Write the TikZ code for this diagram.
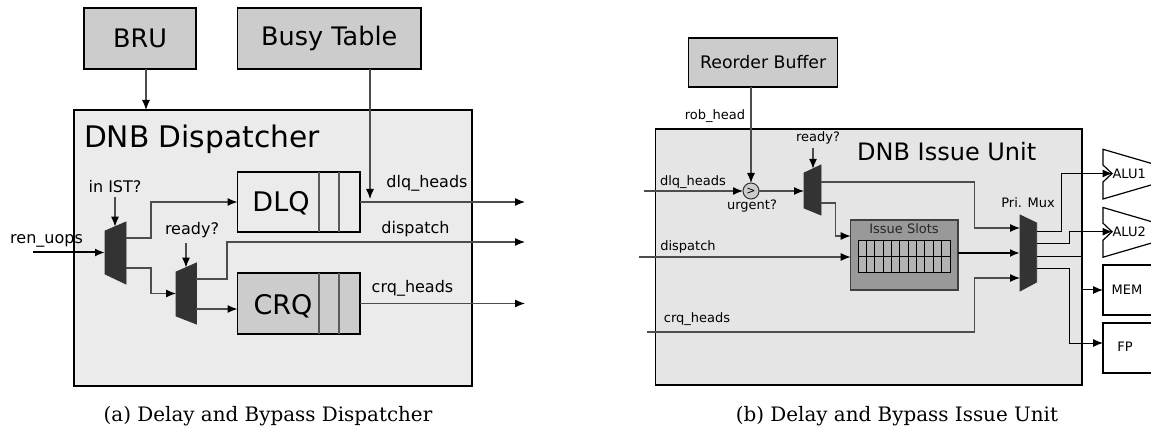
\documentclass[tikz,border=0pt]{standalone}
\usepackage{fontspec}
\newfontfamily\dv{DejaVu Sans}
\newfontfamily\dvserif{DejaVu Serif}
\usetikzlibrary{arrows.meta,calc}
\definecolor{boxgray}{HTML}{CCCCCC}
\definecolor{panelA}{HTML}{EBEBEB}
\definecolor{panelB}{HTML}{E5E5E5}
\definecolor{muxfill}{HTML}{333333}
\definecolor{slotbox}{HTML}{999999}
\definecolor{slotcell}{HTML}{B3B3B3}
\definecolor{wirecol}{HTML}{4D4D4D}

\begin{document}
\begin{tikzpicture}[x=1pt,y=-1pt,
  every node/.style={inner sep=0pt,outer sep=0pt},
  lbl/.style={font=\dv\fontsize{16}{19}\selectfont},
  slbl/.style={font=\dv\fontsize{13}{16}\selectfont},
  unitbox/.style={draw=black,line width=1.3pt,fill=boxgray,font=\dv\fontsize{25.5}{30}\selectfont},
  panel/.style={draw=black,line width=1.2pt},
  queuebox/.style={draw=black,line width=1.2pt},
  divider/.style={draw=black!65,line width=1.1pt},
  muxbody/.style={fill=muxfill,draw=muxfill,line width=0.8pt},
  muxhit/.style={draw=none},
  wire/.style={draw=wirecol,line width=1.2pt},
  arr/.style={wire,-{Latex[length=10pt,width=8pt,color=black]}},
  fuwire/.style={arr,draw=black,line width=1pt},
  fu/.style={draw=black,line width=1.2pt,fill=white},
  captxt/.style={font=\dvserif\fontsize{19.9}{24}\selectfont},
]
\useasboundingbox (0,0) rectangle (1151,430);

% ---------------- (a) dispatcher ----------------
\node[panel,fill=panelA,minimum width=398pt,minimum height=276pt] (disp) at (273,248) {};
\node[anchor=base west,font=\dv\fontsize{29.7}{34}\selectfont] (dispt) at (84,148) {DNB Dispatcher};
\node[unitbox,minimum width=112pt,minimum height=61pt] (bru) at (140,38.5) {BRU};
\node[unitbox,minimum width=183.5pt,minimum height=61pt] (busy) at (329.25,38.5) {Busy Table};

\draw[arr] ([xshift=6pt]bru.south) -- ([xshift=6pt]bru.south |- disp.north);
\coordinate (busyin) at (370,199);
\draw[arr] (busy.south -| busyin) -- (busyin);

% queues
\node[queuebox,fill=panelA,minimum width=122.5pt,minimum height=60pt] (dlq) at (298.75,202) {};
\draw[divider] ([xshift=81.5pt]dlq.north west) -- ([xshift=81.5pt]dlq.south west);
\draw[divider] ([xshift=101.5pt]dlq.north west) -- ([xshift=101.5pt]dlq.south west);
\node[anchor=base,font=\dv\fontsize{27}{32}\selectfont] (dlqt) at (281,212) {DLQ};

\node[queuebox,fill=boxgray,minimum width=122.5pt,minimum height=61pt] (crq) at (298.75,303.5) {};
\draw[divider] ([xshift=81.5pt]crq.north west) -- ([xshift=81.5pt]crq.south west);
\draw[divider] ([xshift=101.5pt]crq.north west) -- ([xshift=101.5pt]crq.south west);
\node[anchor=base,font=\dv\fontsize{27}{32}\selectfont] (crqt) at (283,315) {CRQ};

% muxes
\node[muxhit,minimum width=21pt,minimum height=62pt] (m1) at (115.5,253) {};
\fill[muxbody] (m1.north east) -- (m1.south east) -- ([yshift=10pt]m1.south west) -- ([yshift=-9pt]m1.north west) -- cycle;
\node[muxhit,minimum width=20.4pt,minimum height=61pt] (m2) at (186.2,293.5) {};
\fill[muxbody] (m2.north east) -- (m2.south east) -- ([yshift=8pt]m2.south west) -- ([yshift=-9pt]m2.north west) -- cycle;

% selects
\node[lbl] (ist) at (115,187) {in IST?};
\coordinate (m1selstart) at (115,197);
\coordinate (m1sel) at (115,226.7);
\draw[arr] (m1selstart) -- (m1sel);
\node[lbl] (rdy1) at (192,230) {ready?};
\coordinate (m2selstart) at (186,243);
\coordinate (m2sel) at (186,267.6);
\draw[arr] (m2selstart) -- (m2sel);

% input
\node[lbl] (ren) at (46.5,241) {ren\_uops};
\coordinate (renin) at (33,252.5);
\draw[arr,draw=black,line width=2pt] (renin) -- (renin -| m1.west);

% routing
\coordinate (m1o1) at (126,238);
\coordinate (m1o2) at (126,268);
\draw[arr] (m1o1) -- ++(25,0) |- (dlq.west);
\draw[arr] (m1o2) -- ++(25,0) |- (m2.west);
\coordinate (m2o1) at (196.4,279);
\coordinate (m2o2) at (196.4,309);
\coordinate (dispout) at (525,242);
\draw[arr] (m2o1) -- ++(30.6,0) |- (dispout);
\draw[arr] (m2o2) -- (m2o2 -| crq.west);

\coordinate (dlqout) at (525,202);
\coordinate (crqout) at (525,303.5);
\draw[arr] (dlq.east) -- (dlqout);
\draw[arr] (crq.east) -- (crqout);
\node[lbl] (dlqh) at (427,183) {dlq\_heads};
\node[lbl] (dsp) at (415.5,229) {dispatch};
\node[lbl] (crqh) at (412.5,288) {crq\_heads};

\node[captxt] (capa) at (268,416) {(a) Delay and Bypass Dispatcher};

% ---------------- (b) issue unit ----------------
\node[panel,fill=panelB,minimum width=426.4pt,minimum height=256pt] (iss) at (868.8,257) {};
\node[font=\dv\fontsize{24}{28}\selectfont] (isst) at (946.75,152) {DNB Issue Unit};
\node[unitbox,minimum width=149pt,minimum height=49pt,font=\dv\fontsize{17.3}{20}\selectfont] (rob) at (763.2,62.5) {Reorder Buffer};

% urgency compare
\node[circle,draw=black!80,line width=1pt,fill=boxgray,minimum size=16pt] (cmp) at (751,191) {};
\node[font=\dv\fontsize{11}{12}\selectfont] (cmpsym) at (cmp) {>};
\draw[arr] (rob.south -| cmp.north) -- (cmp.north);
\node[slbl] (robh) at (715,116) {rob\_head};
\node[slbl] (dlqh2) at (693,182) {dlq\_heads};
\coordinate (dlqin) at (643.7,191);
\draw[arr] (dlqin) -- (cmp.west);
\node[slbl] (urg) at (752,206) {urgent?};

% ready mux
\node[muxhit,minimum width=17pt,minimum height=50pt] (mr) at (812.5,190) {};
\fill[muxbody] (mr.north east) -- (mr.south east) -- ([yshift=7pt]mr.south west) -- ([yshift=-8pt]mr.north west) -- cycle;
\draw[arr] (cmp.east) -- (cmp.east -| mr.west);
\node[slbl] (rdy2) at (818,138) {ready?};
\coordinate (mrselstart) at (813,148);
\coordinate (mrsel) at (813,168.8);
\draw[arr] (mrselstart) -- (mrsel);

% priority mux
\node[muxhit,minimum width=16.7pt,minimum height=76pt] (pm) at (1028.35,253) {};
\fill[muxbody] (pm.north west) -- (pm.south west) -- ([yshift=9pt]pm.south east) -- ([yshift=-8pt]pm.north east) -- cycle;
\node[slbl] (pml) at (1028,203) {Pri. Mux};

% issue slots
\node[draw=black!75,line width=1.2pt,fill=slotbox,minimum width=107.3pt,minimum height=70pt] (slots) at (904.35,255) {};
\node[slbl,text=black!85] (slotst) at (904,229) {Issue Slots};
\draw[line width=1pt,fill=slotcell] (858,240.7) rectangle (950,273);
\draw[line width=1pt] (858,256.85) -- (950,256.85);
\foreach \i in {1,...,10} \draw[line width=1pt] ({858+\i*8.3636},240.7) -- ++(0,32.3);

% wires into slots and mux
\coordinate (mro1) at (821,182);
\coordinate (mro2) at (821,203);
\coordinate (pmi1) at (1020,228);
\coordinate (pmi3) at (1020,278);
\coordinate (slotsi1) at (850.7,236);
\draw[arr] (mro1) -- ++(153.5,0) |- (pmi1);
\draw[arr] (mro2) -- ++(14.7,0) |- (slotsi1);
\coordinate (dispin) at (639,257);
\draw[arr] (dispin) -- (dispin -| slots.west);
\node[slbl] (dsp2) at (688,247) {dispatch};
\draw[arr,draw=black,line width=2.2pt] (pm.west -| slots.east) -- (pm.west);
\coordinate (crqin) at (647,332);
\coordinate (crqbend) at (974.5,332);
\draw[arr] (crqin) -- (crqbend) |- (pmi3);
\node[slbl] (crqh2) at (697,319) {crq\_heads};

% functional units
\filldraw[fu] (1103,149.3) -- (1175,170.3) -- (1175,178) -- (1103,199) -- (1103,182) -- (1112,173.5) -- (1103,165) -- cycle;
\filldraw[fu] (1103,207.5) -- (1175,228.5) -- (1175,236.2) -- (1103,257.2) -- (1103,240.2) -- (1112,231.7) -- (1103,223.2) -- cycle;
\node[slbl,anchor=west] (alu1) at (1112.5,173.5) {ALU1};
\node[slbl,anchor=west] (alu2) at (1112.5,231.7) {ALU2};
\node[fu,minimum width=100pt,minimum height=50pt] (mem) at (1153,290) {};
\node[slbl] (meml) at (1127,290) {MEM};
\node[fu,minimum width=100pt,minimum height=50pt] (fp) at (1153,348) {};
\node[slbl] (fpl) at (1125,347) {FP};

% priority mux outputs
\coordinate (pmo1) at (1036.7,232);
\coordinate (pmo2) at (1036.7,244);
\coordinate (pmo3) at (1036.7,257);
\coordinate (pmo4) at (1036.7,269);
\draw[fuwire] (pmo1) -- ++(24.3,0) |- (alu1.west);
\draw[fuwire] (pmo2) -- ++(32.3,0) |- (alu2.west);
\draw[fuwire] (pmo3) -| (iss.east |- mem.west) -- (mem.west);
\draw[fuwire] (pmo4) -- ++(33,0) |- ([yshift=5pt]fp.west);

\node[captxt] (capb) at (897,416) {(b) Delay and Bypass Issue Unit};
\end{tikzpicture}
\end{document}
